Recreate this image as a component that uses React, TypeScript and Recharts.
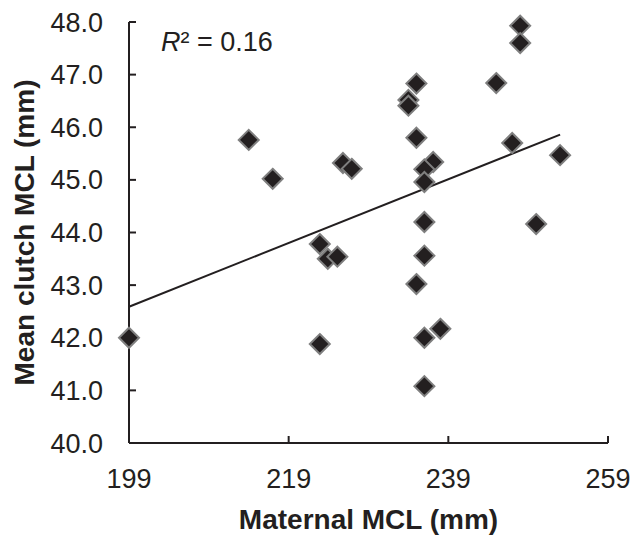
import { ScatterChart, Scatter, XAxis, YAxis, ReferenceLine } from 'recharts'

const maternalMcl = [
  199, 214, 217, 225.8, 226.9, 222.9, 223.9, 225.1, 222.9, 235, 234, 234, 235, 237.1, 236,
  236, 236, 245, 248, 248, 247, 253, 250, 236, 235, 238, 236, 236,
]
const clutchMcl = [
  42.0, 45.76, 45.02, 45.32, 45.21, 43.78, 43.5, 43.54, 41.88, 46.83, 46.52, 46.41, 45.8, 45.34,
  45.2, 44.96, 44.2, 46.84, 47.93, 47.6, 45.7, 45.47, 44.16, 43.56, 43.02, 42.17, 42.0, 41.08,
]
const xTicks = [199, 219, 239, 259]
const yTicks = [40, 41, 42, 43, 44, 45, 46, 47, 48]
const trendX = [199, 253]
const trendY = [42.59, 45.86]

const points = maternalMcl.map((x, i) => ({ x, y: clutchMcl[i] }))

const INK = '#231f20'
const FONT = '"Liberation Sans", Arial, sans-serif'

// eslint-disable-next-line @typescript-eslint/no-explicit-any
const Diamond = (props: any) => {
  const { cx, cy } = props
  if (cx == null || cy == null) return null
  const r = 10
  return (
    <polygon
      points={`${cx},${cy - r} ${cx + r},${cy} ${cx},${cy + r} ${cx - r},${cy}`}
      fill={INK}
      stroke="#7f7f7f"
      strokeWidth={2}
    />
  )
}

export default function App() {
  return (
    <div style={{ position: 'absolute', left: 0, top: 0, width: 633, height: 536, fontFamily: FONT }}>
      <ScatterChart width={633} height={536} margin={{ top: 22, right: 25, bottom: 0, left: 0 }}>
        <XAxis
          type="number"
          dataKey="x"
          domain={[199, 259]}
          ticks={xTicks}
          height={93}
          tickSize={-7}
          tickMargin={33}
          stroke={INK}
          strokeWidth={2}
          tick={{ fill: INK, fontSize: 27, fontFamily: FONT }}
          label={{
            value: 'Maternal MCL (mm)',
            position: 'insideBottom',
            offset: 7,
            fill: INK,
            fontSize: 28,
            fontWeight: 'bold',
            fontFamily: FONT,
          }}
        />
        <YAxis
          type="number"
          dataKey="y"
          domain={[40, 48]}
          ticks={yTicks}
          width={129}
          tickSize={-7}
          tickMargin={33}
          stroke={INK}
          strokeWidth={2}
          tickFormatter={(v: number) => v.toFixed(1)}
          tick={{ fill: INK, fontSize: 27, fontFamily: FONT }}
          label={{
            value: 'Mean clutch MCL (mm)',
            angle: -90,
            position: 'insideLeft',
            offset: 24,
            style: { textAnchor: 'middle' },
            fill: INK,
            fontSize: 28,
            fontWeight: 'bold',
            fontFamily: FONT,
          }}
        />
        <ReferenceLine
          segment={[
            { x: trendX[0], y: trendY[0] },
            { x: trendX[1], y: trendY[1] },
          ]}
          stroke={INK}
          strokeWidth={2}
        />
        <Scatter data={points} shape={Diamond} isAnimationActive={false} />
      </ScatterChart>
      <div
        style={{
          position: 'absolute',
          left: 161,
          top: 27,
          fontSize: 27,
          color: INK,
          fontFamily: FONT,
          lineHeight: '30px',
          whiteSpace: 'nowrap',
        }}
      >
        <i>R</i>² = 0.16
      </div>
    </div>
  )
}
